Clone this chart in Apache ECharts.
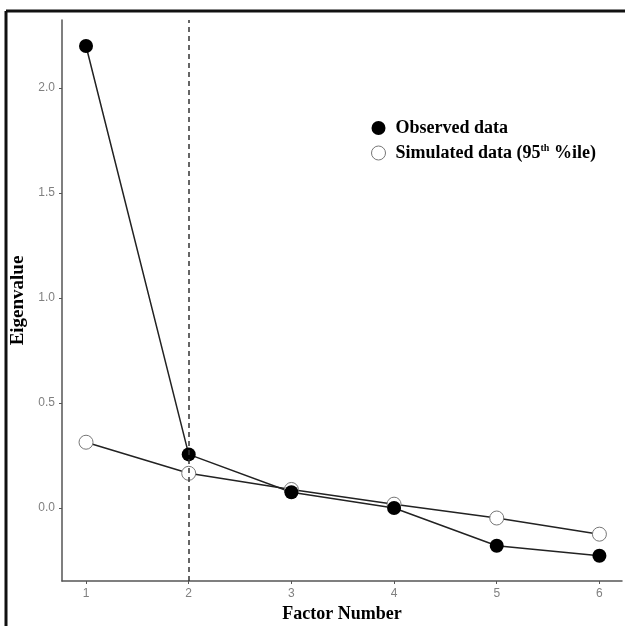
<!DOCTYPE html>
<html>
<head>
<meta charset="utf-8">
<script src="https://cdn.jsdelivr.net/npm/echarts@6/dist/echarts.min.js"></script>
<style>html,body{margin:0;padding:0;background:#fff}#c{width:625px;height:626px}</style>
</head>
<body>
<div id="c"></div>
<script>
const factors = [1, 2, 3, 4, 5, 6];
const observed = [2.20, 0.255, 0.075, 0.0, -0.18, -0.228];
const simulated = [0.313, 0.165, 0.088, 0.018, -0.048, -0.125];
const xTicks = [1, 2, 3, 4, 5, 6];
const yTicks = [0, 0.5, 1.0, 1.5, 2.0];
const cutoffFactor = 2;

const serif = "'Liberation Serif', 'DejaVu Serif', serif";
const sans = "'Liberation Sans', Arial, sans-serif";
const chart = echarts.init(document.getElementById('c'));
chart.setOption({
  animation: false,
  backgroundColor: '#fff',
  grid: { left: 62, right: 3, top: 20, bottom: 45, outerBoundsMode: 'none', containLabel: false },
  legend: {
    orient: 'vertical', left: 366, top: 114, itemGap: 6,
    itemWidth: 14, itemHeight: 14,
    data: [
      { name: 'Observed data', icon: 'circle', itemStyle: { color: '#000', borderWidth: 0 } },
      { name: 'Simulated data', icon: 'circle', itemStyle: { color: '#fff', borderColor: '#777', borderWidth: 1 } }
    ],
    formatter: function (n) {
      return n === 'Simulated data' ? '{p|}{b|Simulated data (95}{sup|th}{b| %ile)}' : '{p|}{b|Observed data}';
    },
    textStyle: {
      rich: {
        p: { width: 5 },
        b: { fontFamily: serif, fontWeight: 'bold', fontSize: 18, color: '#000', lineHeight: 20 },
        sup: { fontFamily: serif, fontWeight: 'bold', fontSize: 10, color: '#000', verticalAlign: 'top', lineHeight: 20, padding: [0, 0, 6, 0] }
      }
    }
  },
  xAxis: {
    type: 'value', min: 0.766, max: 6.22,
    name: 'Factor Number', nameLocation: 'middle', nameGap: 18,
    nameTextStyle: { fontFamily: serif, fontWeight: 'bold', fontSize: 18, color: '#000' },
    axisLine: { show: true, onZero: false, lineStyle: { color: '#555', width: 1.5 } },
    axisTick: { show: true, length: 3, customValues: xTicks, lineStyle: { color: '#555' } },
    axisLabel: { customValues: xTicks, color: '#808080', fontFamily: sans, fontSize: 12, margin: 7 },
    splitLine: { show: false }
  },
  yAxis: {
    type: 'value', min: -0.348, max: 2.324,
    name: 'Eigenvalue', nameLocation: 'middle', nameGap: 32, nameRotate: 90,
    nameTextStyle: { fontFamily: serif, fontWeight: 'bold', fontSize: 19, color: '#000' },
    axisLine: { show: true, onZero: false, lineStyle: { color: '#555', width: 1.5 } },
    axisTick: { show: true, length: 3, customValues: yTicks, lineStyle: { color: '#555' } },
    axisLabel: { customValues: yTicks, color: '#808080', fontFamily: sans, fontSize: 12, margin: 7,
      formatter: v => v.toFixed(1) },
    splitLine: { show: false }
  },
  series: [
    {
      name: 'Simulated data', type: 'line',
      data: factors.map((f, i) => [f, simulated[i]]),
      symbol: 'circle', symbolSize: 14,
      itemStyle: { color: '#fff', borderColor: '#777', borderWidth: 1 },
      lineStyle: { color: '#222', width: 1.5 },
      markLine: {
        silent: true, symbol: 'none', label: { show: false },
        lineStyle: { color: '#333', type: [5, 4], width: 1.5 },
        data: [{ xAxis: cutoffFactor }]
      }
    },
    {
      name: 'Observed data', type: 'line',
      data: factors.map((f, i) => [f, observed[i]]),
      symbol: 'circle', symbolSize: 14,
      itemStyle: { color: '#000' },
      lineStyle: { color: '#222', width: 1.5 }
    }
  ],
  graphic: [
    { type: 'line', shape: { x1: 6, y1: 11, x2: 630, y2: 11 }, style: { stroke: '#111', lineWidth: 3 }, z: 100 },
    { type: 'line', shape: { x1: 6, y1: 11, x2: 6, y2: 630 }, style: { stroke: '#111', lineWidth: 3 }, z: 100 }
  ]
});
</script>
</body>
</html>
